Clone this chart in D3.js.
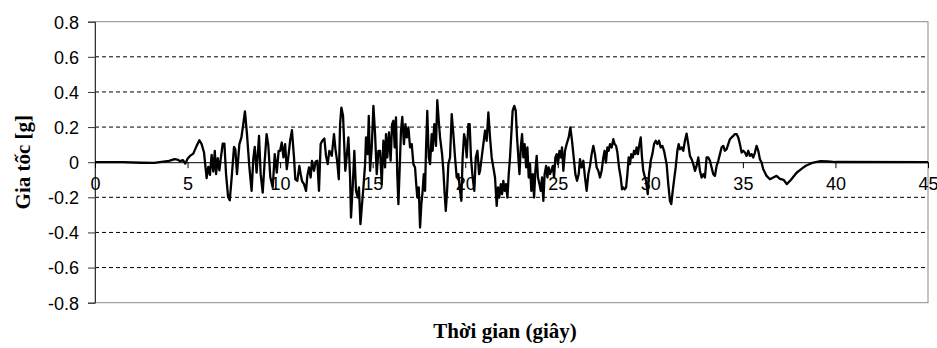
<!DOCTYPE html>
<html>
<head>
<meta charset="utf-8">
<script src="https://cdn.jsdelivr.net/npm/d3@7"></script>
<style>
  html, body { margin: 0; padding: 0; background: #fff; }
  svg { display: block; }
  .tick-lbl { font-family: "Liberation Sans", Arial, sans-serif; font-size: 18px; fill: #000; }
  .ax-title { font-family: "Liberation Serif", "Times New Roman", serif; font-size: 21px; font-weight: bold; fill: #000; }
</style>
</head>
<body>
<div id="chart"></div>
<script>
// ── Data ───────────────────────────────────────────────────────────────────
const timeS = [
  0, 1.5, 2.5, 3.2, 3.6, 4.0, 4.3, 4.45, 4.6, 4.75, 4.88, 5.0,
  5.13, 5.31, 5.49, 5.64, 5.76, 5.89, 6.03, 6.12, 6.21, 6.30, 6.39, 6.47, 6.54, 6.63,
  6.72, 6.79, 6.90, 6.99, 7.08, 7.19, 7.28, 7.38, 7.51, 7.58, 7.67, 7.80, 7.91, 8.01,
  8.10, 8.21, 8.34, 8.46, 8.55, 8.63, 8.73, 8.86, 8.95, 9.06, 9.17, 9.27, 9.36, 9.47,
  9.60, 9.71, 9.82, 9.92,
  10.00, 10.09, 10.18, 10.27, 10.36, 10.45, 10.54, 10.64, 10.75, 10.82, 10.93, 11.04,
  11.11, 11.18, 11.29, 11.40, 11.47, 11.56, 11.65, 11.72, 11.83, 11.92, 12.01, 12.10,
  12.19, 12.28, 12.39, 12.48, 12.57, 12.66, 12.79, 12.91, 12.99, 13.08, 13.17, 13.24,
  13.31, 13.40, 13.47, 13.52, 13.60, 13.69, 13.78, 13.83, 13.92, 14.01, 14.10, 14.19,
  14.26, 14.34, 14.41, 14.50, 14.59, 14.64, 14.73, 14.79, 14.86, 14.95, 15.04, 15.13,
  15.22, 15.31,
  15.40, 15.49, 15.58, 15.67, 15.72, 15.79, 15.88, 15.97, 16.05, 16.12, 16.19, 16.26,
  16.33, 16.39, 16.48, 16.53, 16.60, 16.69, 16.77, 16.84, 16.93, 17.02, 17.11, 17.20,
  17.29, 17.34, 17.41, 17.49, 17.56, 17.63, 17.70, 17.76, 17.83, 17.88, 17.95, 18.03,
  18.10, 18.19, 18.24, 18.33, 18.42, 18.49, 18.57, 18.64, 18.75, 18.82, 18.89, 18.95,
  19.02, 19.09, 19.18, 19.27, 19.36, 19.45, 19.54, 19.63, 19.72, 19.79, 19.86, 19.94,
  20.01, 20.08, 20.17, 20.24, 20.31, 20.40, 20.49, 20.57, 20.66, 20.75,
  20.80, 20.89, 20.98, 21.07, 21.16, 21.25, 21.34, 21.43, 21.52, 21.61, 21.70, 21.77,
  21.84, 21.92, 21.99, 22.06, 22.13, 22.20, 22.28, 22.35, 22.42, 22.49, 22.56, 22.65,
  22.73, 22.80, 22.87, 22.93, 23.00, 23.07, 23.14, 23.21, 23.29, 23.36, 23.43, 23.50,
  23.57, 23.65, 23.72, 23.79, 23.86, 23.93, 24.01, 24.08, 24.15, 24.22, 24.29, 24.37,
  24.44, 24.51, 24.58, 24.65, 24.73, 24.80, 24.87, 24.94, 25.01, 25.09, 25.16, 25.23,
  25.30, 25.39, 25.48, 25.59, 25.68, 25.77, 25.86, 25.95, 26.04, 26.13,
  26.20, 26.29, 26.38, 26.47, 26.56, 26.65, 26.74, 26.83, 26.92, 27.01, 27.10, 27.19,
  27.28, 27.37, 27.46, 27.53, 27.60, 27.68, 27.75, 27.82, 27.91, 28.00, 28.07, 28.15,
  28.22, 28.31, 28.40, 28.47, 28.54, 28.61, 28.69, 28.76, 28.83, 28.90, 28.97, 29.05,
  29.12, 29.19, 29.26, 29.33, 29.41, 29.48, 29.55, 29.62, 29.69, 29.77, 29.86, 29.93,
  30.02, 30.11, 30.20, 30.29, 30.38, 30.47, 30.56, 30.65, 30.74, 30.81, 30.88, 30.97,
  31.06, 31.13, 31.21, 31.30, 31.37, 31.46, 31.53,
  31.60, 31.69, 31.78, 31.87, 31.96, 32.05, 32.14, 32.23, 32.32, 32.41, 32.50, 32.59,
  32.68, 32.77, 32.86, 32.95, 33.04, 33.13, 33.22, 33.31, 33.40, 33.49, 33.58, 33.67,
  33.76, 33.85, 33.94, 34.03, 34.12, 34.21, 34.30, 34.39, 34.48, 34.57, 34.66, 34.75,
  34.84, 34.93, 35.02, 35.11, 35.20, 35.29, 35.38, 35.47, 35.56, 35.65, 35.74, 35.83,
  35.92, 36.01, 36.10, 36.19, 36.28, 36.46, 36.64, 36.82,
  37.0, 37.2, 37.37, 37.6, 37.9, 38.2, 38.4, 38.8, 39.2, 39.6, 40.0, 45.0
];

const accelG = [
  0, 0, -0.003, -0.004, 0.002, 0.008, 0.018, 0.015, 0.006, 0.012, -0.008, 0.020,
  0.036, 0.049, 0.093, 0.125, 0.103, 0.055, -0.091, -0.027, -0.072, 0.042, -0.053, 0.065, -0.068, 0.023,
  -0.046, 0.017, 0.106, 0.106, -0.068, -0.198, -0.217, -0.091, 0.087, 0.074, -0.068, 0.103, 0.141, 0.217,
  0.289, 0.160, -0.030, -0.163, 0.017, 0.087, -0.059, 0.150, -0.068, -0.173, 0.011, 0.160, 0.099, -0.084,
  -0.144, 0.046, -0.059, 0.065,
  0.065, 0.112, 0.027, 0.103, -0.040, 0.036, 0.122, 0.182, 0.027, -0.097, -0.106, -0.021,
  -0.068, -0.106, -0.125, -0.163, -0.078, -0.030, -0.087, 0.008, -0.049, 0.004, 0.008, -0.163,
  0.103, 0.122, 0.135, 0.036, -0.011, 0.065, 0.036, 0.160, 0.074, 0.008, -0.097, 0.217,
  0.311, 0.264, 0.084, -0.049, 0.036, 0.141, -0.087, -0.315, -0.144, 0.065, -0.163, -0.201,
  -0.144, -0.353, -0.258, -0.144, -0.011, 0.141, 0.046, 0.264, -0.049, 0.084, 0.321, 0.160,
  -0.068, 0.065,
  0.065, -0.125, 0.122, -0.030, 0.160, 0.027, 0.169, 0.008, 0.217, 0.236, 0.084, 0.255,
  -0.068, -0.239, 0.027, 0.179, 0.258, 0.103, 0.217, 0.141, 0.198, 0.084, 0.103, -0.011,
  -0.030, -0.106, -0.201, -0.144, -0.372, -0.239, -0.163, -0.068, -0.163, 0.065, 0.292, 0.027,
  -0.011, 0.160, 0.065, 0.217, 0.093, 0.353, 0.236, 0.141, 0.046, -0.049, -0.182, -0.277,
  -0.163, -0.011, 0.027, 0.274, 0.160, 0.027, -0.087, -0.068, -0.163, -0.220, 0.027, 0.160,
  0.122, 0.027, 0.217, 0.217, 0.027, -0.087, -0.163, 0.027, 0.065, -0.068,
  -0.049, 0.027, 0.103, 0.179, 0.122, 0.283, 0.141, 0.027, -0.030, -0.087, -0.249, -0.144,
  -0.201, -0.125, -0.182, -0.106, -0.163, -0.125, -0.201, -0.068, 0.027, 0.160, 0.292, 0.321,
  0.292, 0.141, 0.027, -0.068, 0.084, 0.160, 0.027, 0.103, -0.030, 0.084, -0.087, -0.011,
  -0.163, -0.068, -0.201, -0.049, 0.036, -0.087, -0.125, -0.163, -0.087, -0.220, -0.068, -0.021,
  -0.087, -0.030, -0.068, -0.049, -0.021, -0.087, 0.027, 0.046, -0.011, 0.065, 0.027, 0.084,
  -0.049, 0.065, 0.103, 0.141, 0.198, 0.122, 0.027, -0.068, -0.106, -0.068,
  0.017, -0.030, 0.008, -0.087, -0.163, -0.068, -0.021, 0.046, 0.093, 0.046, -0.030, -0.049,
  -0.087, -0.049, 0.027, 0.065, -0.002, 0.084, 0.065, 0.103, 0.084, 0.131, 0.103, 0.093,
  0.055, -0.030, -0.087, -0.154, -0.144, -0.154, -0.144, -0.068, 0.027, -0.011, 0.046, 0.027,
  0.065, 0.046, 0.084, 0.046, 0.103, 0.141, 0.027, -0.049, -0.078, -0.106, -0.182, -0.068,
  0.008, 0.046, 0.103, 0.122, 0.103, 0.122, 0.084, 0.093, 0.065, 0.027, -0.011, -0.125,
  -0.220, -0.239, -0.163, -0.087, -0.030, 0.065, 0.103,
  0.074, 0.084, 0.065, 0.122, 0.163, 0.103, 0.036, 0.017, -0.011, -0.049, -0.021, 0.027,
  -0.049, -0.087, -0.068, -0.087, 0.027, 0.027, 0.008, -0.030, -0.068, -0.078, -0.021, 0.008,
  0.046, 0.084, 0.093, 0.065, 0.074, 0.103, 0.131, 0.141, 0.150, 0.160, 0.160, 0.141,
  0.103, 0.055, 0.065, 0.055, 0.036, 0.065, 0.036, 0.046, 0.027, 0.055, 0.093, 0.065,
  0.017, -0.002, -0.040, -0.059, -0.078, -0.097, -0.087, -0.078,
  -0.095, -0.100, -0.125, -0.100, -0.060, -0.035, -0.020, -0.002, 0.006, 0.004, 0.001, 0
];

const yTicks = [-0.8, -0.6, -0.4, -0.2, 0, 0.2, 0.4, 0.6, 0.8];
const xTicks = [0, 5, 10, 15, 20, 25, 30, 35, 40, 45];
const yTitle = 'Gia tốc [g]';
const xTitle = 'Thời gian (giây)';

// ── Layout ─────────────────────────────────────────────────────────────────
const W = 937, H = 348;
const m = { top: 21.7, right: 9, bottom: 45.3, left: 95 };
const pw = W - m.left - m.right;
const ph = H - m.top - m.bottom;

const svg = d3.select('#chart').append('svg')
  .attr('width', W).attr('height', H);

const x = d3.scaleLinear().domain([0, 45]).range([0, pw]);
const y = d3.scaleLinear().domain([-0.8, 0.8]).range([ph, 0]);

const g = svg.append('g').attr('transform', `translate(${m.left},${m.top})`);

// dashed grid lines
g.append('g')
  .selectAll('line')
  .data(yTicks.filter(v => Math.abs(v) > 1e-9 && Math.abs(v) < 0.79))
  .join('line')
    .attr('x1', 0).attr('x2', pw)
    .attr('y1', d => y(d)).attr('y2', d => y(d))
    .attr('stroke', '#000').attr('stroke-width', 1)
    .attr('stroke-dasharray', '4,3');

// plot frame (top / right / bottom)
g.append('rect')
  .attr('x', 0).attr('y', 0).attr('width', pw).attr('height', ph)
  .attr('fill', 'none').attr('stroke', '#8a8a8a').attr('stroke-width', 1);

// y axis
const yAxis = g.append('g')
  .call(d3.axisLeft(y).tickValues(yTicks).tickSize(7).tickPadding(9)
    .tickFormat(d => Math.abs(d) < 1e-9 ? '0' : d.toFixed(1)));
yAxis.select('.domain').attr('stroke', '#333');
yAxis.selectAll('.tick line').attr('stroke', '#333');
yAxis.selectAll('text').attr('class', 'tick-lbl').attr('font-size', null).attr('font-family', null)
  .attr('dy', '0.35em');

// x axis on the zero line (the last label runs off the right edge, as in the original)
const xAxis = g.append('g')
  .attr('transform', `translate(0,${y(0)})`)
  .call(d3.axisBottom(x).tickValues(xTicks).tickSize(6).tickPadding(9).tickSizeOuter(0));
xAxis.select('.domain').attr('stroke', '#000');
xAxis.selectAll('.tick line').attr('stroke', '#000');
xAxis.selectAll('text').attr('class', 'tick-lbl').attr('font-size', null).attr('font-family', null);

// signal
const pts = timeS.map((t, i) => [t, accelG[i]]);
g.append('path')
  .datum(pts)
  .attr('fill', 'none')
  .attr('stroke', '#000')
  .attr('stroke-width', 2.3)
  .attr('stroke-linejoin', 'round')
  .attr('d', d3.line().x(d => x(d[0])).y(d => y(d[1])));

// titles
svg.append('text')
  .attr('class', 'ax-title')
  .attr('text-anchor', 'middle')
  .attr('transform', `translate(30,${m.top + y(0)}) rotate(-90)`)
  .text(yTitle);

svg.append('text')
  .attr('class', 'ax-title')
  .attr('text-anchor', 'middle')
  .attr('x', 505).attr('y', 338)
  .text(xTitle);
</script>
</body>
</html>
